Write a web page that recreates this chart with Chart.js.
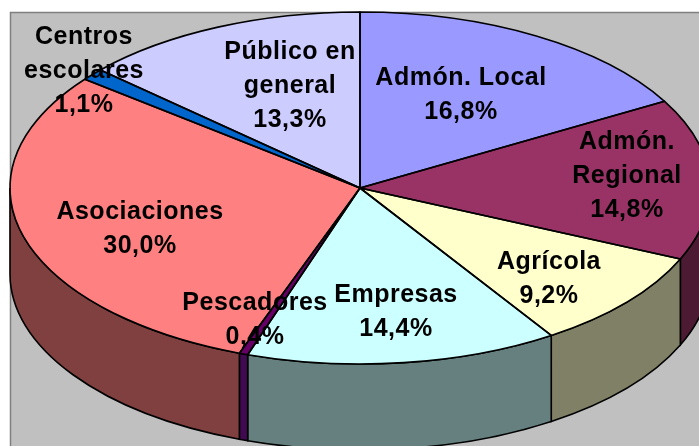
<!DOCTYPE html>
<html>
<head>
<meta charset="utf-8">
<style>
  html, body { margin: 0; padding: 0; background: #fff; overflow: hidden; }
  canvas { display: block; }
</style>
</head>
<body>
<canvas id="pieChart" width="699" height="446"></canvas>
<script src="https://cdn.jsdelivr.net/npm/chart.js@4/dist/chart.umd.min.js"></script>
<script>
const categories = [
  ['Admón. Local'],
  ['Admón.', 'Regional'],
  ['Agrícola'],
  ['Empresas'],
  ['Pescadores'],
  ['Asociaciones'],
  ['Centros', 'escolares'],
  ['Público en', 'general']
];
const shares = [16.8, 14.8, 9.2, 14.4, 0.4, 30.0, 1.1, 13.3];
const topColors = ['#9999FF', '#993366', '#FFFFCC', '#CCFFFF', '#660066', '#FF8080', '#0066CC', '#CCCCFF'];
const sideColors = ['#4D4D80', '#4D1A33', '#808066', '#668080', '#400A50', '#804040', '#003366', '#666680'];

// where each label block sits, centre x and centre y of its first line
const labelSpots = [
  [461, 78], [627, 142], [549, 262], [396, 295],
  [255, 303], [140, 212], [84, 37], [290, 52]
];

const squash = 176 / 350;
const depth = 86;

const pie3d = {
  id: 'pie3d',
  beforeDraw(chart) {
    const c = chart.ctx;
    c.save();
    c.fillStyle = '#fff';
    c.fillRect(0, 0, chart.width, chart.height);
    c.fillStyle = '#C0C0C0';
    c.fillRect(10, 12, chart.width - 10, chart.height - 12);
    c.strokeStyle = '#808080';
    c.lineWidth = 1.5;
    c.beginPath();
    c.moveTo(10.5, chart.height);
    c.lineTo(10.5, 12.5);
    c.lineTo(chart.width, 12.5);
    c.stroke();
    c.restore();
  },
  beforeDatasetDraw(chart) {
    const c = chart.ctx;
    const arcs = chart.getDatasetMeta(0).data;
    const { x, y, outerRadius } = arcs[0];
    const ry = outerRadius * squash;

    // side wall, only the front half of the rim shows
    c.save();
    c.strokeStyle = '#000';
    c.lineWidth = 1.6;
    arcs.forEach((arc, i) => {
      const a0 = Math.max(arc.startAngle, 0);
      const a1 = Math.min(arc.endAngle, Math.PI);
      if (a1 <= a0) return;
      c.beginPath();
      c.ellipse(x, y, outerRadius, ry, 0, a0, a1);
      c.ellipse(x, y + depth, outerRadius, ry, 0, a1, a0, true);
      c.closePath();
      c.fillStyle = sideColors[i];
      c.fill();
      c.stroke();
    });
    c.restore();

    c.save();
    c.translate(x, y);
    c.scale(1, squash);
    c.translate(-x, -y);
  },
  afterDatasetDraw(chart) {
    const c = chart.ctx;
    c.restore();

    const arcs = chart.getDatasetMeta(0).data;
    c.save();
    c.strokeStyle = '#000';
    c.lineWidth = 1.6;
    c.lineJoin = 'round';
    arcs.forEach(arc => {
      c.beginPath();
      c.moveTo(arc.x, arc.y);
      c.ellipse(arc.x, arc.y, arc.outerRadius, arc.outerRadius * squash, 0, arc.startAngle, arc.endAngle);
      c.closePath();
      c.stroke();
    });

    c.fillStyle = '#000';
    c.font = 'bold 25px "Liberation Sans", Arial, sans-serif';
    c.letterSpacing = '0.5px';
    c.textAlign = 'center';
    c.textBaseline = 'middle';
    categories.forEach((lines, i) => {
      const [lx, ly] = labelSpots[i];
      const pct = shares[i].toFixed(1).replace('.', ',') + '%';
      [...lines, pct].forEach((text, k) => {
        c.fillText(text, lx, ly + k * 34);
      });
    });
    c.restore();
  }
};

new Chart(document.getElementById('pieChart'), {
  type: 'pie',
  data: {
    labels: categories,
    datasets: [{
      data: shares,
      backgroundColor: topColors,
      borderWidth: 0,
      radius: 350,
      clip: false
    }]
  },
  options: {
    responsive: false,
    animation: false,
    layout: { padding: { left: 21, bottom: 70 } },
    plugins: {
      legend: { display: false },
      tooltip: { enabled: false }
    }
  },
  plugins: [pie3d]
});
</script>
</body>
</html>
